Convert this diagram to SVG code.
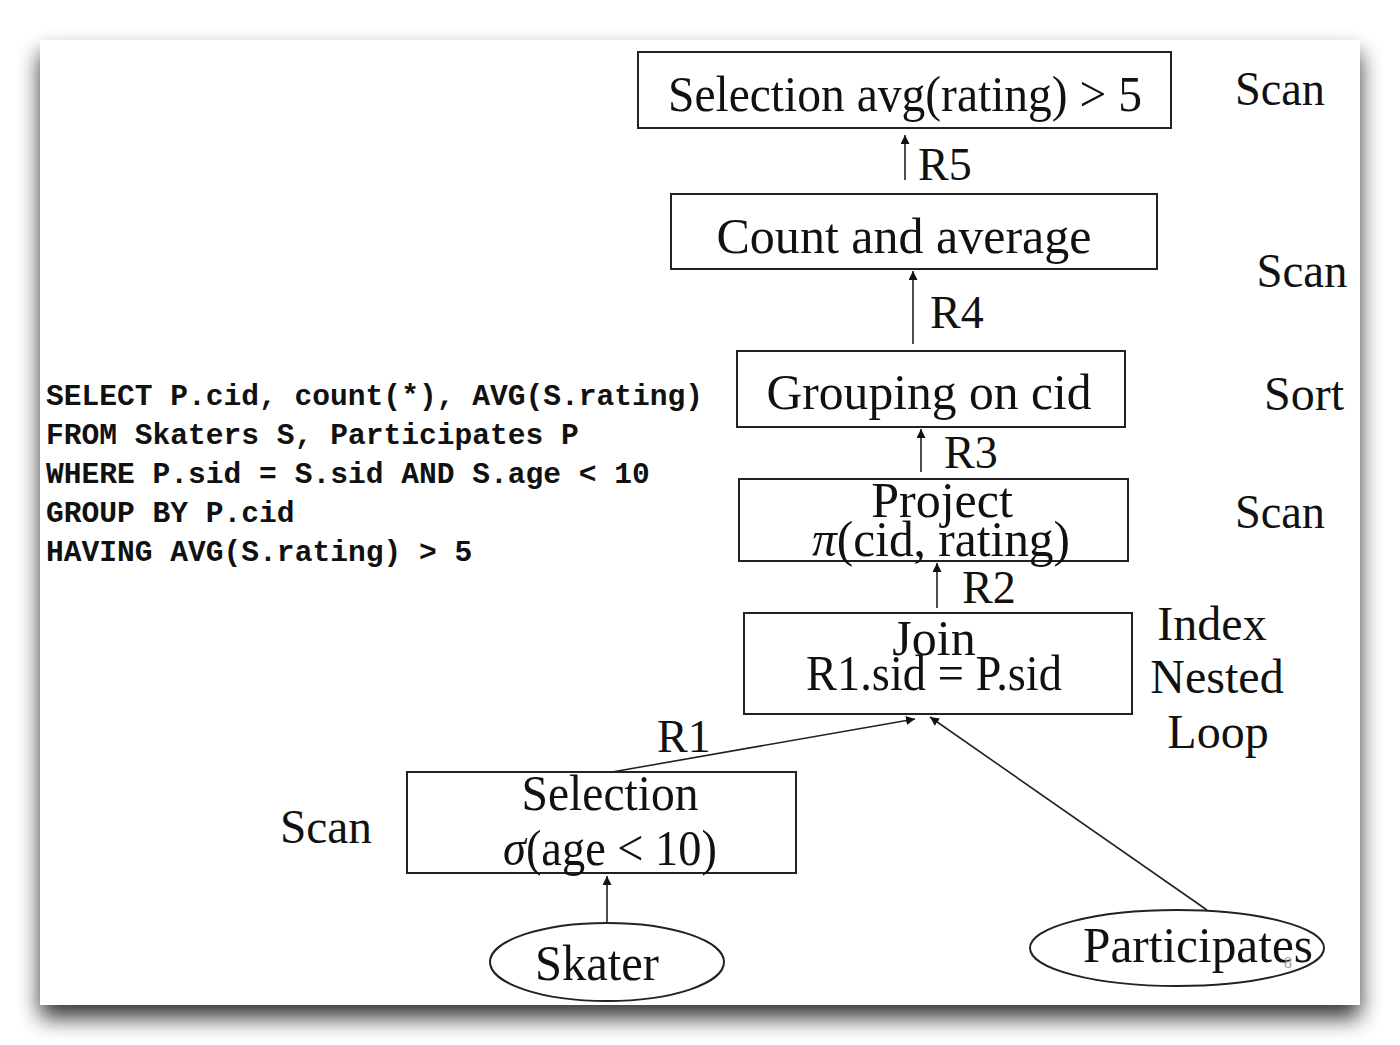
<svg xmlns="http://www.w3.org/2000/svg" width="1400" height="1045" viewBox="0 0 1400 1045">
<defs>
<filter id="sh" x="-10%" y="-10%" width="120%" height="125%">
<feGaussianBlur in="SourceAlpha" stdDeviation="11"/>
<feOffset dx="0" dy="13" result="b"/>
<feComponentTransfer><feFuncA type="linear" slope="0.8"/></feComponentTransfer>
<feMerge><feMergeNode/><feMergeNode in="SourceGraphic"/></feMerge>
</filter>
<marker id="ah" viewBox="0 0 10 10" refX="10" refY="5" markerWidth="9" markerHeight="9" markerUnits="userSpaceOnUse" orient="auto">
<path d="M0,0 L10,5 L0,10 z" fill="#111"/>
</marker>
<style>
.box{fill:#fff;stroke:#222;stroke-width:2}
.ell{fill:#fff;stroke:#222;stroke-width:2}
.t{font-family:"Liberation Serif","Times New Roman",serif;font-size:50px;fill:#111;text-anchor:middle}
.s{font-family:"Liberation Serif","Times New Roman",serif;font-size:48px;fill:#111;text-anchor:middle}
.r{font-family:"Liberation Serif","Times New Roman",serif;font-size:46px;fill:#111}
.sql{font-family:"Liberation Mono","Courier New",monospace;font-weight:bold;font-size:29.6px;fill:#111}
.c{stroke:#222;stroke-width:1.6;fill:none;marker-end:url(#ah)}
</style>
</defs>
<rect width="1400" height="1045" fill="#fff"/>
<rect x="40" y="40" width="1320" height="965" fill="#fff" filter="url(#sh)"/>

<g id="sql">
<text class="sql" x="46" y="405" textLength="657">SELECT P.cid, count(*), AVG(S.rating)</text>
<text class="sql" x="46" y="444">FROM Skaters S, Participates P</text>
<text class="sql" x="46" y="483">WHERE P.sid = S.sid AND S.age &lt; 10</text>
<text class="sql" x="46" y="522">GROUP BY P.cid</text>
<text class="sql" x="46" y="561">HAVING AVG(S.rating) &gt; 5</text>
</g>

<g id="connectors">
<line class="c" x1="905" y1="180" x2="905" y2="135"/>
<line class="c" x1="913" y1="344" x2="913" y2="271"/>
<line class="c" x1="921" y1="472" x2="921" y2="429"/>
<line class="c" x1="937" y1="608" x2="937" y2="563"/>
<line class="c" x1="612" y1="772" x2="915" y2="719"/>
<line class="c" x1="1207" y1="910" x2="930" y2="717"/>
<line class="c" x1="607" y1="922" x2="607" y2="876"/>
</g>

<g id="n-sel-avg">
<rect class="box" x="638" y="52" width="533" height="76"/>
<text class="t" x="905" y="111" textLength="474" lengthAdjust="spacingAndGlyphs">Selection avg(rating) &gt; 5</text>
</g>
<g id="n-count">
<rect class="box" x="671" y="194" width="486" height="75"/>
<text class="t" x="904" y="253" textLength="375" lengthAdjust="spacingAndGlyphs">Count and average</text>
</g>
<g id="n-group">
<rect class="box" x="737" y="351" width="388" height="76"/>
<text class="t" x="929" y="409" textLength="325" lengthAdjust="spacingAndGlyphs">Grouping on cid</text>
</g>
<g id="n-project">
<rect class="box" x="739" y="479" width="389" height="82"/>
<text class="t" x="942" y="517">Project</text>
<text class="t" x="941" y="556" textLength="258" lengthAdjust="spacingAndGlyphs"><tspan font-style="italic">π</tspan>(cid, rating)</text>
</g>
<g id="n-join">
<rect class="box" x="744" y="613" width="388" height="101"/>
<text class="t" x="934" y="655">Join</text>
<text class="t" x="934" y="690" textLength="256" lengthAdjust="spacingAndGlyphs">R1.sid = P.sid</text>
</g>
<g id="n-sel-age">
<rect class="box" x="407" y="772" width="389" height="101"/>
<text class="t" x="610" y="810" textLength="177" lengthAdjust="spacingAndGlyphs">Selection</text>
<text class="t" x="610" y="865" textLength="214" lengthAdjust="spacingAndGlyphs"><tspan font-style="italic">σ</tspan>(age &lt; 10)</text>
</g>
<g id="n-skater">
<ellipse class="ell" cx="607" cy="962" rx="117" ry="39"/>
<text class="t" x="597" y="980" textLength="124" lengthAdjust="spacingAndGlyphs">Skater</text>
</g>
<g id="n-participates">
<ellipse class="ell" cx="1177" cy="948" rx="147" ry="38"/>
<text class="t" x="1198" y="962" textLength="230" lengthAdjust="spacingAndGlyphs">Participates</text>
<text x="1288" y="968" font-family="Liberation Serif, serif" font-size="16" fill="#999" text-anchor="middle">8</text>
</g>

<g id="labels">
<text class="r" x="918" y="180">R5</text>
<text class="r" x="930" y="328">R4</text>
<text class="r" x="944" y="468">R3</text>
<text class="r" x="962" y="603">R2</text>
<text class="r" x="657" y="752">R1</text>
<text class="s" x="1280" y="105" textLength="90" lengthAdjust="spacingAndGlyphs">Scan</text>
<text class="s" x="1302" y="287" textLength="91" lengthAdjust="spacingAndGlyphs">Scan</text>
<text class="s" x="1304" y="410">Sort</text>
<text class="s" x="1280" y="528" textLength="90" lengthAdjust="spacingAndGlyphs">Scan</text>
<text class="s" x="1212" y="640">Index</text>
<text class="s" x="1217" y="693">Nested</text>
<text class="s" x="1218" y="748">Loop</text>
<text class="s" x="326" y="843" textLength="92" lengthAdjust="spacingAndGlyphs">Scan</text>
</g>
</svg>
